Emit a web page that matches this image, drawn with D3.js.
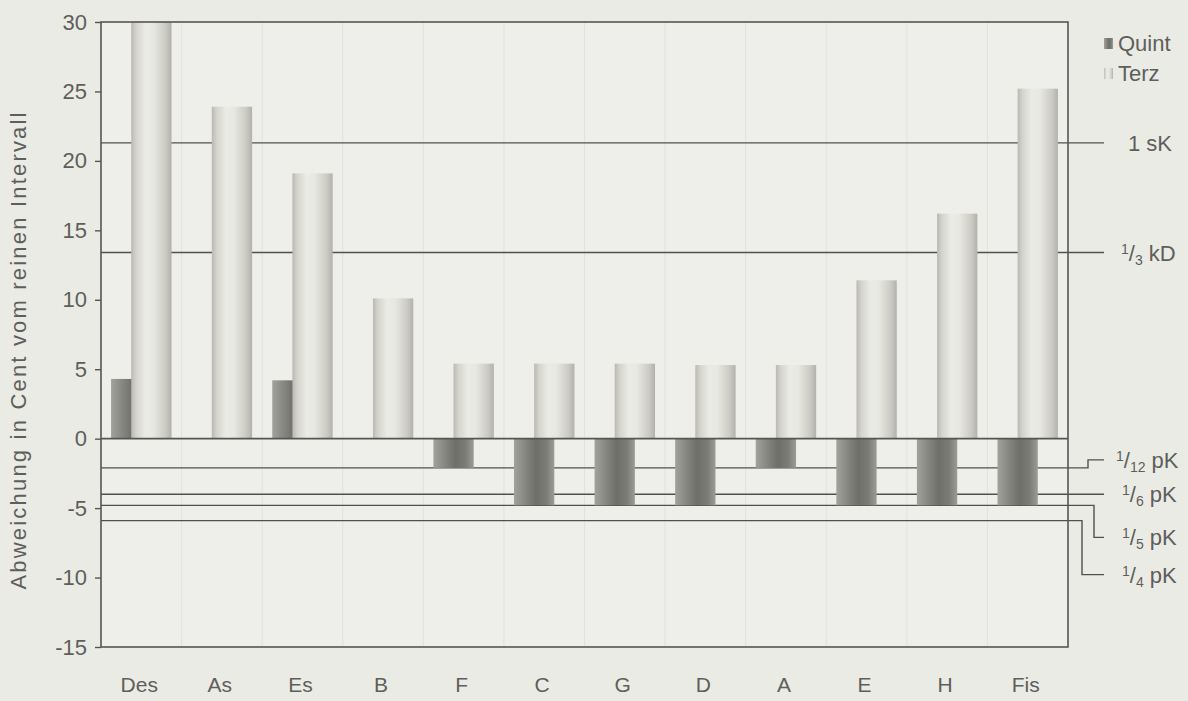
<!DOCTYPE html>
<html>
<head>
<meta charset="utf-8">
<script src="https://cdn.jsdelivr.net/npm/d3@7/dist/d3.min.js"></script>
<style>
  html, body { margin: 0; padding: 0; background: #ebebe6; }
  svg { display: block; }
  text { font-family: "Liberation Sans", Arial, sans-serif; fill: #5e5e5c; }
</style>
</head>
<body>
<svg id="chart" width="1188" height="701"></svg>
<script>
// Notes of the circle of fifths
const categories = ["Des", "As", "Es", "B", "F", "C", "G", "D", "A", "E", "H", "Fis"];
// Deviation of each fifth and major third from the pure interval, in cents
const quintValues = [4.3, 0, 4.2, 0, -2.1, -4.8, -4.8, -4.8, -2.1, -4.8, -4.8, -4.8];
const terzValues = [31, 23.9, 19.1, 10.1, 5.4, 5.4, 5.4, 5.3, 5.3, 11.4, 16.2, 25.2];
const seriesNames = ["Quint", "Terz"];
// Comma fractions drawn as reference lines
const refLabels = ["1 sK", "1/3 kD", "1/12 pK", "1/6 pK", "1/5 pK", "1/4 pK"];
const refValues = [21.3, 13.4, -2.1, -4.0, -4.8, -5.9];
const yTicks = [-15, -10, -5, 0, 5, 10, 15, 20, 25, 30];
const yTitle = "Abweichung in Cent vom reinen Intervall";

const svg = d3.select("#chart");
const pL = 101, pR = 1068, pT = 22, pB = 647;

const x = d3.scaleBand().domain(categories).range([pL, pR]).padding(0);
const y = d3.scaleLinear().domain([-15, 30]).range([pB, pT]).clamp(true);
const bw = x.bandwidth();
const sub = d3.scalePoint().domain(seriesNames).range([-bw * 0.125, bw * 0.125]);
const barW = bw * 0.5;

// gradients giving the bars a rounded, cylinder-like shading
const defs = svg.append("defs");
function grad(id, stops) {
  const g = defs.append("linearGradient").attr("id", id)
    .attr("x1", "0%").attr("x2", "100%").attr("y1", "0%").attr("y2", "0%");
  stops.forEach(([o, c]) => g.append("stop").attr("offset", o).attr("stop-color", c));
}
grad("gTerz", [["0%", "#b9b9b1"], ["12%", "#d4d4cc"], ["35%", "#ebebe5"], ["55%", "#e8e8e2"], ["85%", "#cbcbc3"], ["100%", "#b2b2aa"]]);
grad("gQuint", [["0%", "#a2a29c"], ["30%", "#85857f"], ["55%", "#6e6e6a"], ["80%", "#7c7c77"], ["100%", "#9c9c96"]]);

// plot area
svg.append("rect").attr("x", pL).attr("y", pT)
  .attr("width", pR - pL).attr("height", pB - pT)
  .attr("fill", "#eeeeea");

// faint vertical separators between the categories
svg.append("g").selectAll("line").data(categories.slice(1)).join("line")
  .attr("x1", d => x(d)).attr("x2", d => x(d))
  .attr("y1", pT).attr("y2", pB)
  .attr("stroke", "#e2e2dc").attr("stroke-width", 1);

// reference lines with leader lines to their labels on the right
const refOffsets = [0, 0, -8, 0, 32, 54];   // vertical shift of each leader end
const refKinkX = [1104, 1104, 1088, 1104, 1094, 1082];
const refG = svg.append("g");
refValues.forEach((v, i) => {
  const yy = y(v);
  const off = refOffsets[i];
  const kx = refKinkX[i];
  const path = off === 0
    ? `M${pL},${yy}H1104`
    : `M${pL},${yy}H${kx}V${yy + off}H1104`;
  refG.append("path").attr("d", path)
    .attr("fill", "none").attr("stroke", "#505050").attr("stroke-width", 1.4);
});

// bars: fifths first, thirds overlapping them
const data = categories.map((c, i) => ({ c, Quint: quintValues[i], Terz: terzValues[i] }));
seriesNames.forEach(s => {
  svg.append("g").selectAll("rect").data(data.filter(d => d[s] !== 0)).join("rect")
    .attr("x", d => x(d.c) + bw / 2 + sub(s) - barW / 2)
    .attr("width", barW)
    .attr("y", d => y(Math.max(0, d[s])))
    .attr("height", d => Math.abs(y(d[s]) - y(0)))
    .attr("fill", s === "Quint" ? "url(#gQuint)" : "url(#gTerz)");
});

// zero line
svg.append("line").attr("x1", pL).attr("x2", pR)
  .attr("y1", y(0)).attr("y2", y(0))
  .attr("stroke", "#555").attr("stroke-width", 1.6);

// frame
svg.append("rect").attr("x", pL).attr("y", pT)
  .attr("width", pR - pL).attr("height", pB - pT)
  .attr("fill", "none").attr("stroke", "#555").attr("stroke-width", 1.6);

// y axis
const yAxis = svg.append("g").attr("transform", `translate(${pL},0)`)
  .call(d3.axisLeft(y).tickValues(yTicks).tickFormat(d => String(d)).tickSize(6).tickPadding(8));
yAxis.select(".domain").remove();
yAxis.selectAll(".tick line").attr("stroke", "#555").attr("stroke-width", 1.4);
yAxis.selectAll(".tick text").attr("font-size", 22).attr("fill", "#5e5e5c")
  .style("font-family", '"Liberation Sans", Arial, sans-serif');

// x labels
svg.append("g").selectAll("text").data(categories).join("text")
  .attr("x", d => x(d) + bw / 2 - 2).attr("y", 692)
  .attr("text-anchor", "middle").attr("font-size", 21)
  .text(d => d);

// y title
svg.append("text")
  .attr("transform", "translate(26,351) rotate(-90)")
  .attr("text-anchor", "middle").attr("font-size", 22)
  .attr("textLength", 477).attr("lengthAdjust", "spacing")
  .text(yTitle);

// labels of the reference lines
const labelX = [1128, 1121, 1116, 1122, 1122, 1122];
refLabels.forEach((lab, i) => {
  const yy = y(refValues[i]) + refOffsets[i] + 8;
  const t = svg.append("text").attr("x", labelX[i]).attr("y", yy).attr("font-size", 22);
  if (lab.includes("/")) {
    const [num, rest] = lab.split("/");
    const [den, unit] = rest.split(" ");
    t.append("tspan").attr("font-size", 14).attr("dy", -7).text(num);
    t.append("tspan").attr("dy", 7).text("/");
    t.append("tspan").attr("font-size", 14).attr("dy", 4).text(den);
    t.append("tspan").attr("dy", -4).text(" " + unit);
  } else {
    t.text(lab);
  }
});

// legend
const legend = svg.append("g");
seriesNames.forEach((s, i) => {
  const ly = 38 + i * 30;
  legend.append("rect").attr("x", 1104).attr("y", ly).attr("width", 9).attr("height", 11)
    .attr("fill", s === "Quint" ? "url(#gQuint)" : "url(#gTerz)");
  legend.append("text").attr("x", 1118).attr("y", ly + 13).attr("font-size", 22).text(s);
});
</script>
</body>
</html>
